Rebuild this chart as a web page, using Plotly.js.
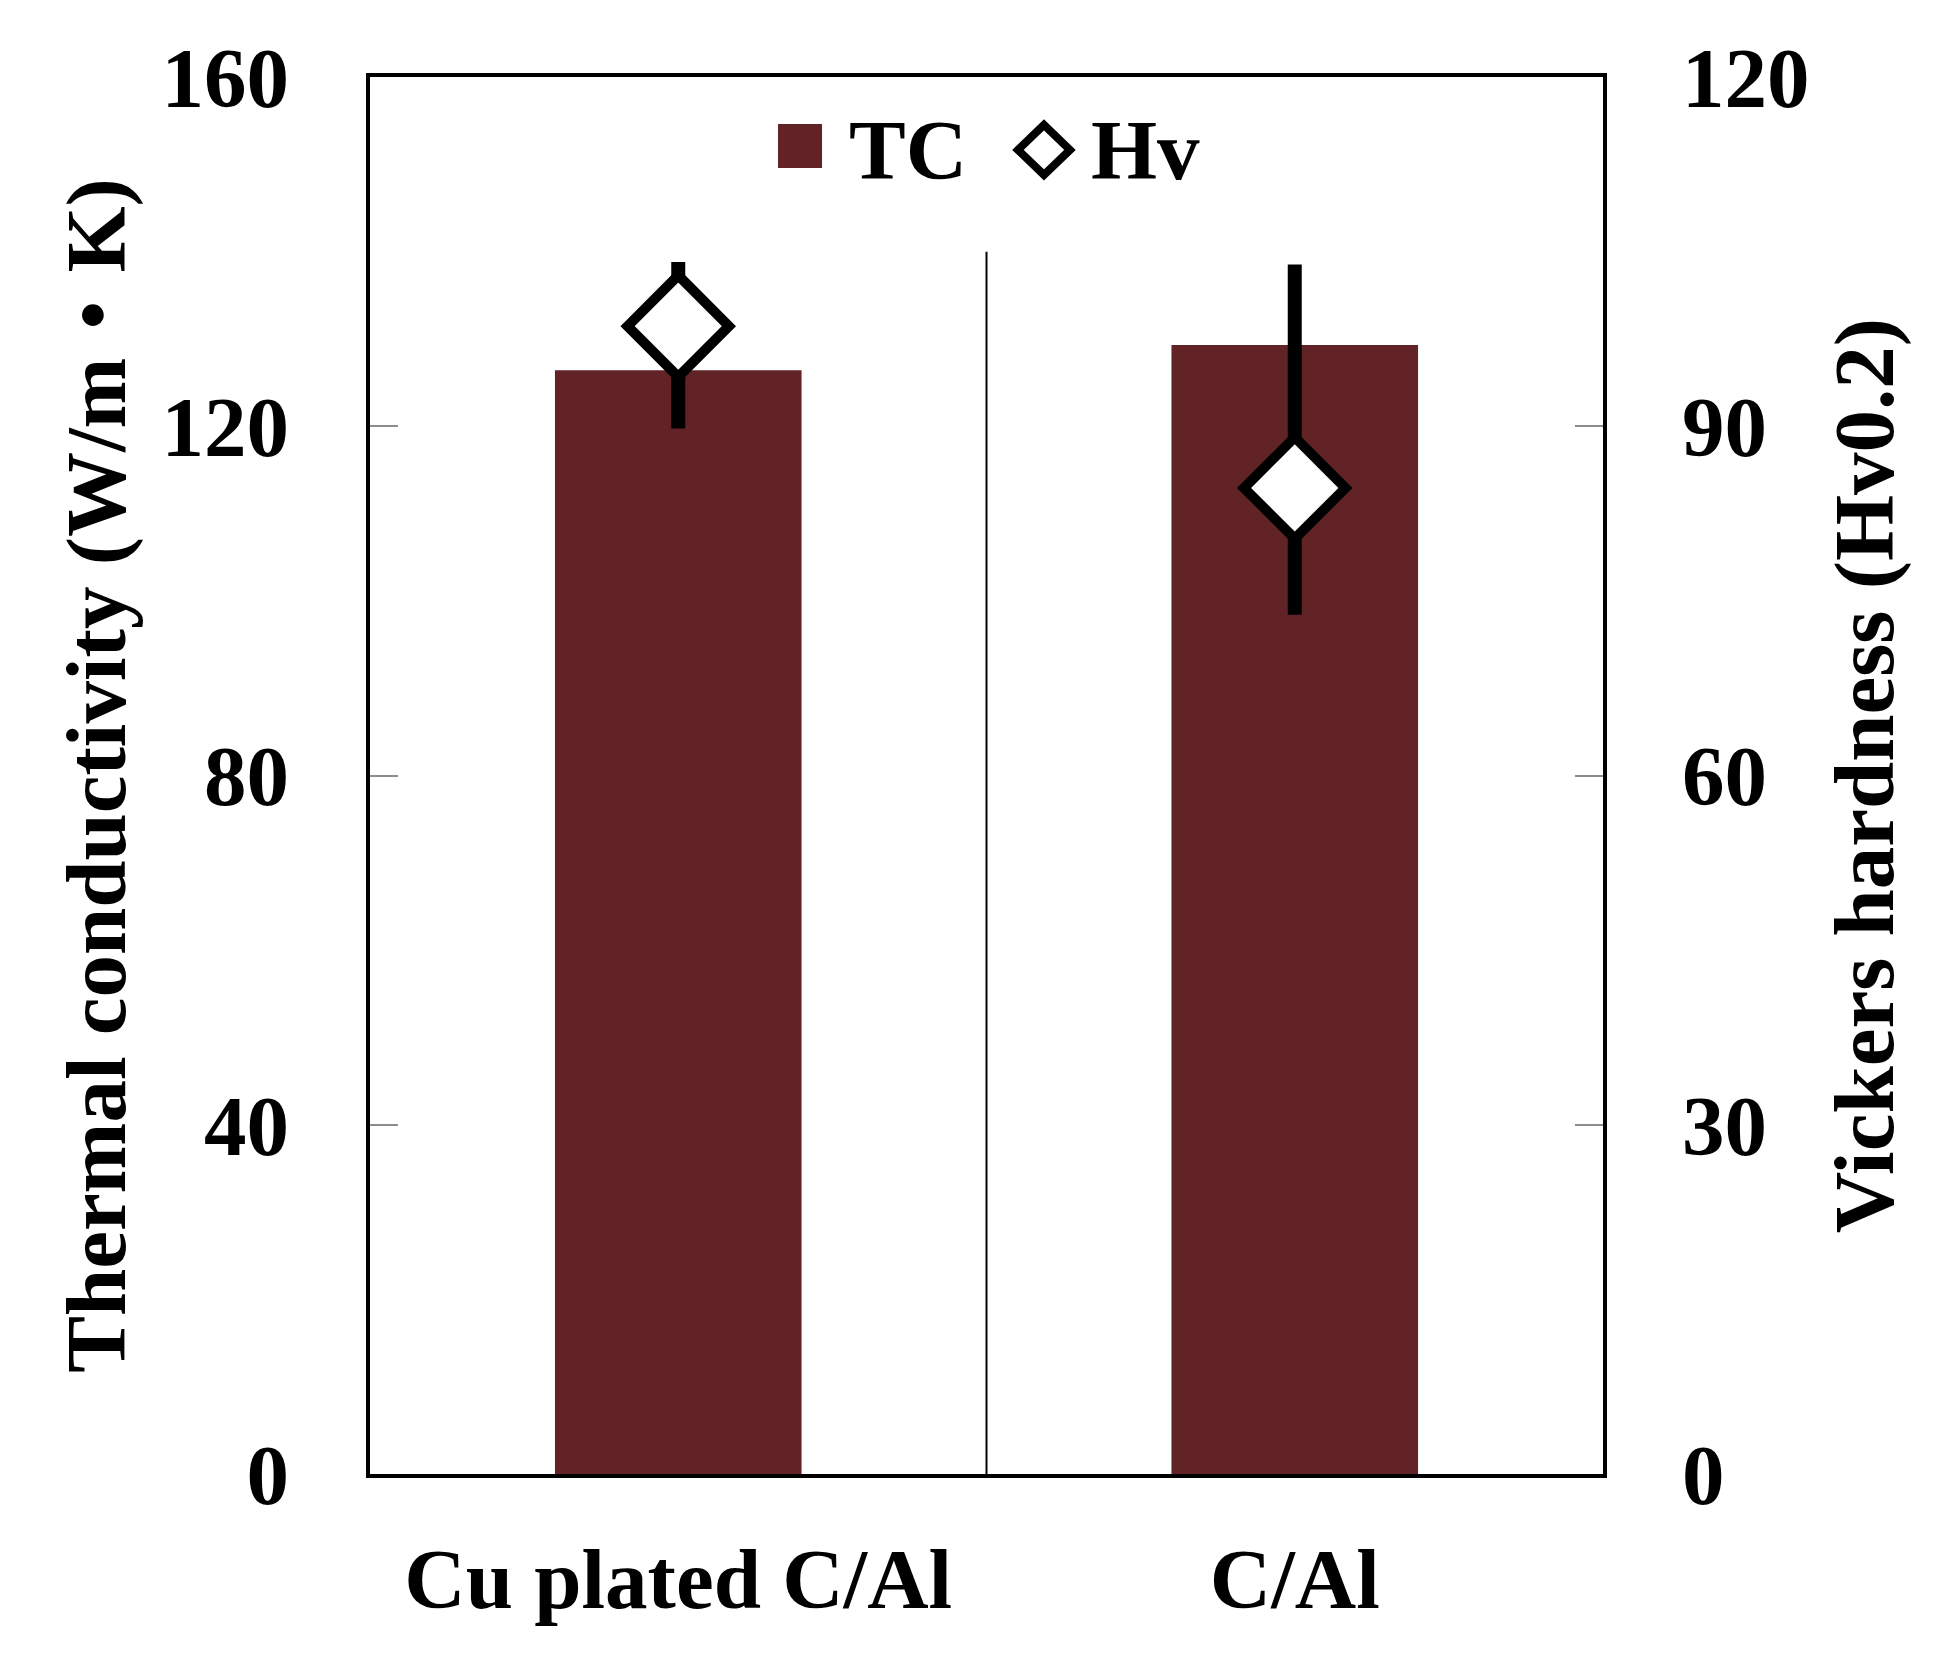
<!DOCTYPE html>
<html>
<head>
<meta charset="utf-8">
<script src="https://cdn.plot.ly/plotly-3.0.1.min.js"></script>
<style>
  body { margin: 0; background: #fff; }
  #chart { width: 1952px; height: 1680px; }
</style>
</head>
<body>
<div id="chart"></div>
<script>
// values
let categories = ["Cu plated C/Al", "C/Al"];
let tc_values = [126.4, 129.3];
let hv_values = [98.6, 84.7];
let hv_err_plus = [5.5, 19.2];
let hv_err_minus = [8.8, 10.9];
let tc_ticks = [0, 40, 80, 120, 160];
let hv_ticks = [0, 30, 60, 90, 120];

let bar_color = "#622326";
let font_family = "'Liberation Serif', 'Times New Roman', 'Noto Sans CJK JP', serif";
let big_font = { family: font_family, size: 85, color: "#000", weight: "bold" };

var data = [
    {
        type: "bar",
        name: "TC",
        x: categories,
        y: tc_values,
        width: 0.4,
        marker: { color: bar_color, line: { width: 0 } },
        showlegend: false,
        hoverinfo: "x+y"
    },
    {
        type: "scatter",
        mode: "markers",
        name: "Hv",
        x: categories,
        y: hv_values,
        yaxis: "y2",
        marker: {
            symbol: "diamond",
            size: 78,
            color: "#fff",
            line: { color: "#000", width: 10 }
        },
        error_y: {
            type: "data",
            symmetric: false,
            array: hv_err_plus,
            arrayminus: hv_err_minus,
            color: "#000",
            thickness: 14,
            width: 0
        },
        showlegend: false,
        hoverinfo: "x+y"
    }
];

// legend drawn by hand so the keys can be as big as in the figure
var legendY = 0.9478;
var shapes = [
    {
        type: "line",
        xref: "x", yref: "y",
        x0: 0.5, x1: 0.5,
        y0: 0, y1: 140,
        line: { color: "#000", width: 2 },
        layer: "below"
    },
    {
        type: "rect",
        xref: "paper", yref: "paper",
        x0: 0.3309, x1: 0.3666,
        y0: 0.9349, y1: 0.9664,
        fillcolor: bar_color,
        line: { width: 0 }
    },
    {
        type: "path",
        xref: "paper", yref: "paper",
        xsizemode: "pixel", ysizemode: "pixel",
        xanchor: 0.5466, yanchor: legendY,
        path: "M -26 0 L 0 25 L 26 0 L 0 -25 Z",
        fillcolor: "#fff",
        line: { color: "#000", width: 8 }
    }
];

var annotations = [
    {
        xref: "paper", yref: "paper",
        x: 0.3869, y: legendY,
        xanchor: "left", yanchor: "middle",
        text: "TC", showarrow: false,
        font: big_font
    },
    {
        xref: "paper", yref: "paper",
        x: 0.5831, y: legendY,
        xanchor: "left", yanchor: "middle",
        text: "Hv", showarrow: false,
        font: big_font
    }
];

var layout = {
    width: 1952,
    height: 1680,
    margin: { l: 370, r: 349, t: 77, b: 206 },
    paper_bgcolor: "#fff",
    plot_bgcolor: "#fff",
    showlegend: false,
    font: big_font,
    shapes: shapes,
    annotations: annotations,
    xaxis: {
        type: "category",
        categoryarray: categories,
        range: [-0.5, 1.5],
        showline: true,
        mirror: true,
        linecolor: "#000",
        linewidth: 4,
        ticks: "",
        showgrid: false,
        zeroline: false,
        tickfont: big_font,
        ticklabelstandoff: 28
    },
    yaxis: {
        range: [0, 160],
        tickvals: tc_ticks,
        ticktext: tc_ticks.map(String),
        ticks: "inside",
        ticklen: 28,
        tickwidth: 2,
        tickcolor: "#8c8c8c",
        showline: true,
        linecolor: "#000",
        linewidth: 4,
        showgrid: false,
        zeroline: false,
        tickfont: big_font,
        ticklabelstandoff: 60,
        title: {
            text: "Thermal conductivity (W/m・K)",
            font: big_font,
            standoff: 9
        }
    },
    yaxis2: {
        overlaying: "y",
        side: "right",
        range: [0, 120],
        tickvals: hv_ticks,
        ticktext: hv_ticks.map(String),
        ticks: "inside",
        ticklen: 28,
        tickwidth: 2,
        tickcolor: "#8c8c8c",
        showline: true,
        linecolor: "#000",
        linewidth: 4,
        showgrid: false,
        zeroline: false,
        tickfont: big_font,
        ticklabelstandoff: 58,
        title: {
            text: "Vickers hardness (Hv0.2)",
            font: big_font,
            standoff: 26
        }
    },
    bargap: 0.6
};

Plotly.newPlot("chart", data, layout, { displayModeBar: false, staticPlot: true });
</script>
</body>
</html>
